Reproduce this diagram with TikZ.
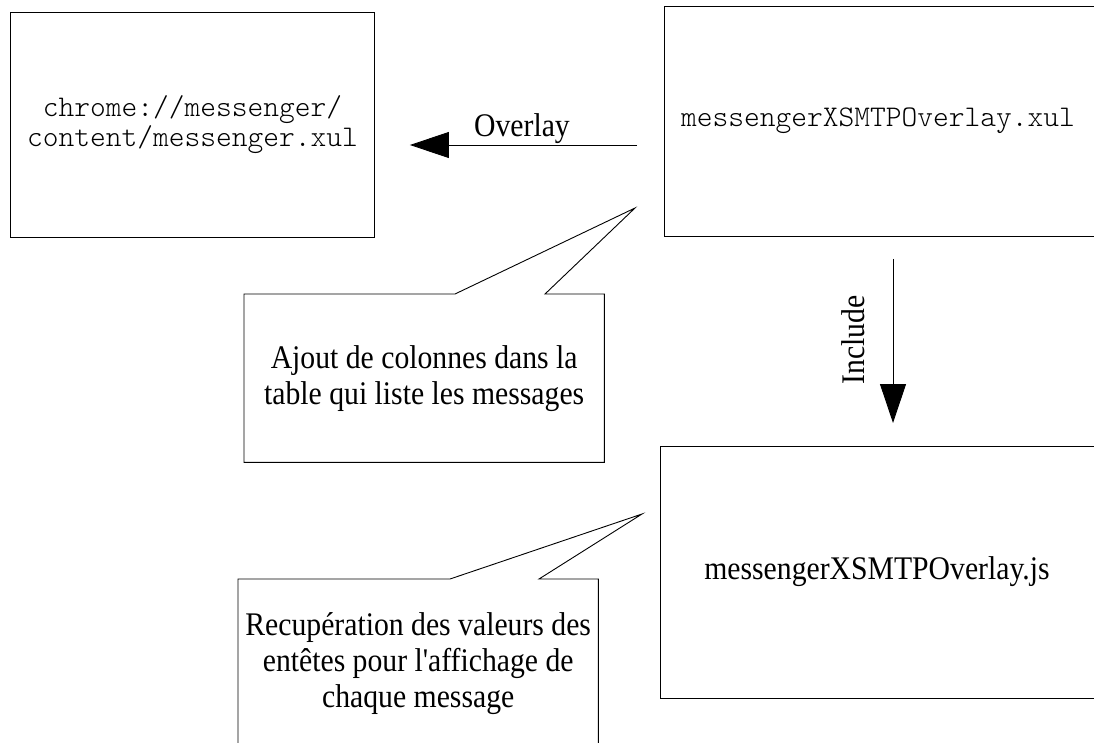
\documentclass[tikz,border=0pt]{standalone}
\usepackage{fontspec}
\setmainfont{Liberation Serif}[FakeStretch=0.9, Ligatures=TeXOff]
\setmonofont{lmmonolt10-regular.otf}
\usetikzlibrary{arrows.meta}
\begin{document}
\begin{tikzpicture}[x=1pt,y=-1pt,
  frame/.style={draw, line width=0.9pt, rectangle, inner sep=0pt, anchor=north west},
  code/.style={font=\ttfamily\fontsize{30}{30}\selectfont, align=center},
  prose/.style={font=\fontsize{33}{36}\selectfont, align=center},
  outline/.style={line width=0.9pt, line join=miter},
  flow/.style={line width=0.9pt, -{Triangle[length=39pt,width=26pt]}}]
  \useasboundingbox (0,0) rectangle (1094,742);
  \clip (0,0) rectangle (1094,742);

  % file boxes
  \node[frame, code, minimum width=364pt, minimum height=225pt] (chrome) at (10,12)
    {chrome://messenger/\\content/messenger.xul};
  \node[frame, minimum width=440pt, minimum height=230pt] (xul) at (664,6) {};
  \node[code] (xultext) at (878,121) {messengerXSMTPOverlay.xul};
  \node[frame, minimum width=450pt, minimum height=252pt] (js) at (660,446) {};
  \node[prose] (jstext) at (877,572) {messengerXSMTPOverlay.js};

  % overlay relation
  \coordinate (ovrow) at (0,145);
  \draw[flow, shorten <=27pt, shorten >=35pt] (xul.west |- ovrow) -- (chrome.east |- ovrow);
  \node[prose, anchor=base] (ovlabel) at (522,136) {Overlay};

  % include relation
  \coordinate (inccol) at (893,0);
  \draw[flow, shorten <=22pt, shorten >=23pt] (xul.south -| inccol) -- (js.north -| inccol);
  \node[prose, rotate=90] (inclabel) at (853,340) {Include};

  % callout on the overlay file
  \node[prose, anchor=north west, inner sep=0pt, minimum width=360pt, minimum height=168pt] (note1)
    at (244,294) {Ajout de colonnes dans la\\table qui liste les messages};
  \coordinate (tip1) at (635,208);
  \draw[outline] (note1.north west) -- (455,294) -- (tip1) -- (545,294) -- (note1.north east)
    -- (note1.south east) -- (note1.south west) -- cycle;

  % callout on the script file
  \node[prose, anchor=north west, inner sep=0pt, minimum width=360pt, minimum height=168pt] (note2)
    at (238,579) {Recupération des valeurs des\\entêtes pour l'affichage de\\chaque message};
  \coordinate (tip2) at (642,514);
  \draw[outline] (note2.south west) -- (note2.north west) -- (450,579) -- (tip2) -- (539,579)
    -- (note2.north east) -- (note2.south east);
\end{tikzpicture}
\end{document}
